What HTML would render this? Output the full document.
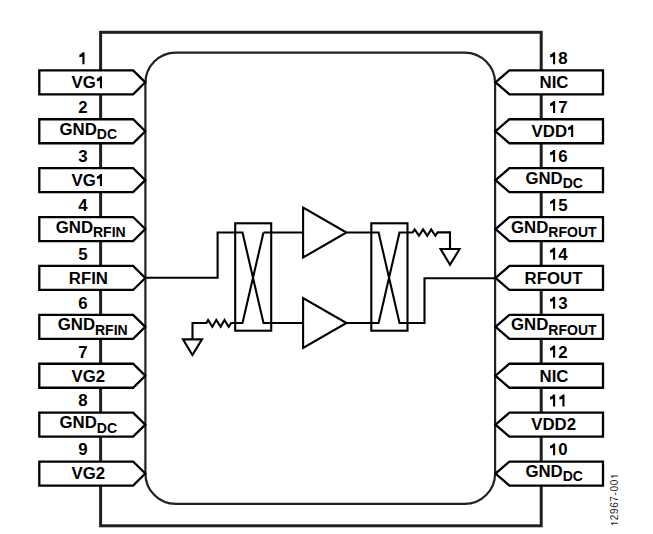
<!DOCTYPE html>
<html><head><meta charset="utf-8"><style>
html,body{margin:0;padding:0;background:#fff;width:653px;height:534px;overflow:hidden}
svg{display:block}
.h{fill-opacity:0}
text{font-kerning:none;font-family:"Liberation Sans",sans-serif;font-weight:bold;font-size:16.8px;fill:#000}
</style></head><body>
<svg width="653" height="534" viewBox="0 0 653 534">
<rect x="100.6" y="32.3" width="440.6" height="493.5" fill="none" stroke="#231f20" stroke-width="3"/>
<rect x="145.4" y="52.6" width="349.7" height="451.3" rx="30.5" ry="30.5" fill="none" stroke="#231f20" stroke-width="2.2"/>
<path d="M39.3 70.35H133.1L145.3 82.35L133.1 94.35H39.3Z" fill="#fff" stroke="#000" stroke-width="2.3"/>
<path d="M603 70.35H509.4L495.5 82.35L509.4 94.35H603Z" fill="#fff" stroke="#000" stroke-width="2.3"/>
<text x="88.40" y="88.15" text-anchor="middle">VG<tspan class="h">1</tspan></text>
<text x="554.00" y="88.15" text-anchor="middle">NIC</text>
<text x="87.7" y="64.15" text-anchor="end"><tspan class="h">1</tspan></text>
<text x="549" y="64.15" text-anchor="start"><tspan class="h">1</tspan>8</text>
<path d="M39.3 119.25H133.1L145.3 131.25L133.1 143.25H39.3Z" fill="#fff" stroke="#000" stroke-width="2.3"/>
<path d="M603 119.25H509.4L495.5 131.25L509.4 143.25H603Z" fill="#fff" stroke="#000" stroke-width="2.3"/>
<text x="88.30" y="134.85" text-anchor="middle">GND<tspan font-size="14" dy="4.3">DC</tspan></text>
<text x="554.00" y="137.05" text-anchor="middle">VDD<tspan class="h">1</tspan></text>
<text x="87.7" y="113.05" text-anchor="end">2</text>
<text x="549" y="113.05" text-anchor="start"><tspan class="h">1</tspan>7</text>
<path d="M39.3 168.15H133.1L145.3 180.15L133.1 192.15H39.3Z" fill="#fff" stroke="#000" stroke-width="2.3"/>
<path d="M603 168.15H509.4L495.5 180.15L509.4 192.15H603Z" fill="#fff" stroke="#000" stroke-width="2.3"/>
<text x="88.40" y="185.95" text-anchor="middle">VG<tspan class="h">1</tspan></text>
<text x="554.20" y="183.75" text-anchor="middle">GND<tspan font-size="14" dy="4.3">DC</tspan></text>
<text x="87.7" y="161.95" text-anchor="end">3</text>
<text x="549" y="161.95" text-anchor="start"><tspan class="h">1</tspan>6</text>
<path d="M39.3 217.05H133.1L145.3 229.05L133.1 241.05H39.3Z" fill="#fff" stroke="#000" stroke-width="2.3"/>
<path d="M603 217.05H509.4L495.5 229.05L509.4 241.05H603Z" fill="#fff" stroke="#000" stroke-width="2.3"/>
<text x="90.70" y="232.65" text-anchor="middle">GND<tspan font-size="14" dy="4.3">RFIN</tspan></text>
<text x="553.80" y="232.65" text-anchor="middle">GND<tspan font-size="14" dy="4.3">RFOUT</tspan></text>
<text x="87.7" y="210.85" text-anchor="end">4</text>
<text x="549" y="210.85" text-anchor="start"><tspan class="h">1</tspan>5</text>
<path d="M39.3 265.95H133.1L145.3 277.95L133.1 289.95H39.3Z" fill="#fff" stroke="#000" stroke-width="2.3"/>
<path d="M603 265.95H509.4L495.5 277.95L509.4 289.95H603Z" fill="#fff" stroke="#000" stroke-width="2.3"/>
<text x="88.40" y="283.75" text-anchor="middle">RFIN</text>
<text x="553.50" y="283.75" text-anchor="middle">RFOUT</text>
<text x="87.7" y="259.75" text-anchor="end">5</text>
<text x="549" y="259.75" text-anchor="start"><tspan class="h">1</tspan>4</text>
<path d="M39.3 314.85H133.1L145.3 326.85L133.1 338.85H39.3Z" fill="#fff" stroke="#000" stroke-width="2.3"/>
<path d="M603 314.85H509.4L495.5 326.85L509.4 338.85H603Z" fill="#fff" stroke="#000" stroke-width="2.3"/>
<text x="92.70" y="330.45" text-anchor="middle">GND<tspan font-size="14" dy="4.3">RFIN</tspan></text>
<text x="553.80" y="330.45" text-anchor="middle">GND<tspan font-size="14" dy="4.3">RFOUT</tspan></text>
<text x="87.7" y="308.65" text-anchor="end">6</text>
<text x="549" y="308.65" text-anchor="start"><tspan class="h">1</tspan>3</text>
<path d="M39.3 363.75H133.1L145.3 375.75L133.1 387.75H39.3Z" fill="#fff" stroke="#000" stroke-width="2.3"/>
<path d="M603 363.75H509.4L495.5 375.75L509.4 387.75H603Z" fill="#fff" stroke="#000" stroke-width="2.3"/>
<text x="88.40" y="381.55" text-anchor="middle">VG2</text>
<text x="554.00" y="381.55" text-anchor="middle">NIC</text>
<text x="87.7" y="357.55" text-anchor="end">7</text>
<text x="549" y="357.55" text-anchor="start"><tspan class="h">1</tspan>2</text>
<path d="M39.3 412.65H133.1L145.3 424.65L133.1 436.65H39.3Z" fill="#fff" stroke="#000" stroke-width="2.3"/>
<path d="M603 412.65H509.4L495.5 424.65L509.4 436.65H603Z" fill="#fff" stroke="#000" stroke-width="2.3"/>
<text x="88.30" y="428.25" text-anchor="middle">GND<tspan font-size="14" dy="4.3">DC</tspan></text>
<text x="553.70" y="430.45" text-anchor="middle">VDD2</text>
<text x="87.7" y="406.45" text-anchor="end">8</text>
<text x="549" y="406.45" text-anchor="start"><tspan class="h">1</tspan><tspan class="h">1</tspan></text>
<path d="M39.3 461.55H133.1L145.3 473.55L133.1 485.55H39.3Z" fill="#fff" stroke="#000" stroke-width="2.3"/>
<path d="M603 461.55H509.4L495.5 473.55L509.4 485.55H603Z" fill="#fff" stroke="#000" stroke-width="2.3"/>
<text x="88.40" y="479.35" text-anchor="middle">VG2</text>
<text x="554.20" y="477.15" text-anchor="middle">GND<tspan font-size="14" dy="4.3">DC</tspan></text>
<text x="87.7" y="455.35" text-anchor="end">9</text>
<text x="549" y="455.35" text-anchor="start"><tspan class="h">1</tspan>0</text>
<path d="M145.4 277.8H217.6V232.5H242.5L263.5 323H303" fill="none" stroke="#000" stroke-width="2.1" stroke-linejoin="miter"/>
<path d="M263.5 232.5L242.5 323H231.2L228.7 326.8L224.5 320L220.6 326.8L216.3 320L212.3 326.8L208.1 320L206.4 323H192.5V339.4" fill="none" stroke="#000" stroke-width="2.1" stroke-linejoin="miter"/>
<path d="M263.5 232.5H303" fill="none" stroke="#000" stroke-width="2.1" stroke-linejoin="miter"/>
<rect x="235.2" y="223.3" width="36" height="107.4" fill="none" stroke="#000" stroke-width="2.1" stroke-linejoin="miter"/>
<path d="M303.1 207.5V257.5L346.5 232.5Z" fill="none" stroke="#000" stroke-width="2.1" stroke-linejoin="miter"/>
<path d="M303.1 298V348L346.5 323Z" fill="none" stroke="#000" stroke-width="2.1" stroke-linejoin="miter"/>
<path d="M346.5 232.5H378.6L399.5 323H424.5V278.2H495.1" fill="none" stroke="#000" stroke-width="2.1" stroke-linejoin="miter"/>
<path d="M346.5 323H378.6L399.5 232.5H412.6L414.6 229.4L419 235.7L423 229.4L427.2 235.7L431.2 229.4L435.3 235.7L437.6 232.4H450V249" fill="none" stroke="#000" stroke-width="2.1" stroke-linejoin="miter"/>
<rect x="371.3" y="223.3" width="36.2" height="107.4" fill="none" stroke="#000" stroke-width="2.1" stroke-linejoin="miter"/>
<path d="M440.6 249H459.6L450 264.8Z" fill="none" stroke="#000" stroke-width="2.1" stroke-linejoin="miter"/>
<path d="M183 339.4H202L192.4 355Z" fill="none" stroke="#000" stroke-width="2.1" stroke-linejoin="miter"/>
<text x="0" y="0" transform="translate(617.9 526.4) rotate(-90)" style="font-weight:normal;font-size:10px;letter-spacing:0.62px;fill:#231f20"><tspan class="h">1</tspan>2967-00<tspan class="h">1</tspan></text>
<path transform=" translate(95.853 88.150) scale(0.01680 -0.01680)" d="M366 0H241V462C190 428 130 416 62 414V574C150 592 220 638 252 710H366Z" fill="#000"/>
<path transform=" translate(78.356 64.150) scale(0.01680 -0.01680)" d="M366 0H241V462C190 428 130 416 62 414V574C150 592 220 638 252 710H366Z" fill="#000"/>
<path transform=" translate(549.000 64.150) scale(0.01680 -0.01680)" d="M366 0H241V462C190 428 130 416 62 414V574C150 592 220 638 252 710H366Z" fill="#000"/>
<path transform=" translate(567.047 137.050) scale(0.01680 -0.01680)" d="M366 0H241V462C190 428 130 416 62 414V574C150 592 220 638 252 710H366Z" fill="#000"/>
<path transform=" translate(549.000 113.050) scale(0.01680 -0.01680)" d="M366 0H241V462C190 428 130 416 62 414V574C150 592 220 638 252 710H366Z" fill="#000"/>
<path transform=" translate(95.853 185.950) scale(0.01680 -0.01680)" d="M366 0H241V462C190 428 130 416 62 414V574C150 592 220 638 252 710H366Z" fill="#000"/>
<path transform=" translate(549.000 161.950) scale(0.01680 -0.01680)" d="M366 0H241V462C190 428 130 416 62 414V574C150 592 220 638 252 710H366Z" fill="#000"/>
<path transform=" translate(549.000 210.850) scale(0.01680 -0.01680)" d="M366 0H241V462C190 428 130 416 62 414V574C150 592 220 638 252 710H366Z" fill="#000"/>
<path transform=" translate(549.000 259.750) scale(0.01680 -0.01680)" d="M366 0H241V462C190 428 130 416 62 414V574C150 592 220 638 252 710H366Z" fill="#000"/>
<path transform=" translate(549.000 308.650) scale(0.01680 -0.01680)" d="M366 0H241V462C190 428 130 416 62 414V574C150 592 220 638 252 710H366Z" fill="#000"/>
<path transform=" translate(549.000 357.550) scale(0.01680 -0.01680)" d="M366 0H241V462C190 428 130 416 62 414V574C150 592 220 638 252 710H366Z" fill="#000"/>
<path transform=" translate(549.000 406.450) scale(0.01680 -0.01680)" d="M366 0H241V462C190 428 130 416 62 414V574C150 592 220 638 252 710H366Z" fill="#000"/>
<path transform=" translate(558.344 406.450) scale(0.01680 -0.01680)" d="M366 0H241V462C190 428 130 416 62 414V574C150 592 220 638 252 710H366Z" fill="#000"/>
<path transform=" translate(549.000 455.350) scale(0.01680 -0.01680)" d="M366 0H241V462C190 428 130 416 62 414V574C150 592 220 638 252 710H366Z" fill="#000"/>
<path transform="translate(617.9 526.4) rotate(-90) translate(0.000 0.000) scale(0.01000 -0.01000)" d="M359 0H273V540C235 500 170 462 105 445V525C185 550 250 610 290 703H359Z" fill="#231f20"/>
<path transform="translate(617.9 526.4) rotate(-90) translate(47.234 0.000) scale(0.01000 -0.01000)" d="M359 0H273V540C235 500 170 462 105 445V525C185 550 250 610 290 703H359Z" fill="#231f20"/>
</svg>
</body></html>
